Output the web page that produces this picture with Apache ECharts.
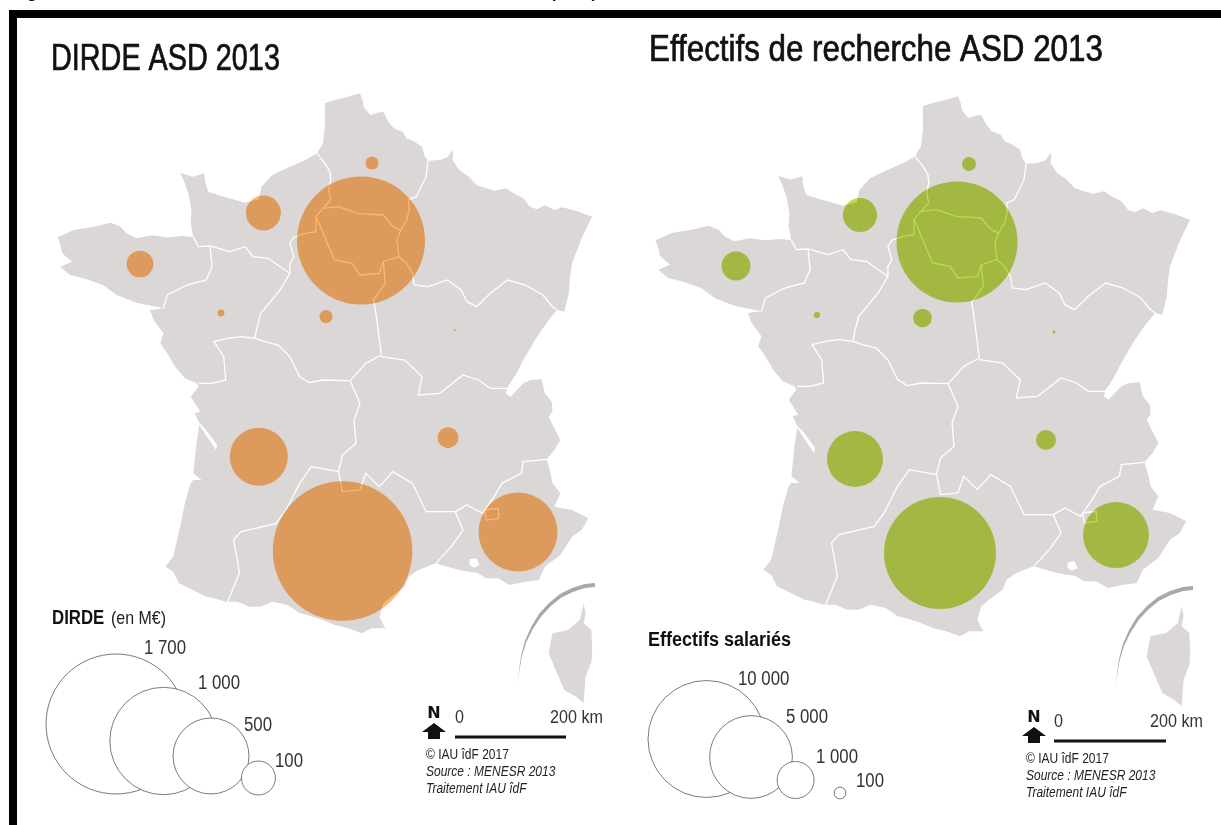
<!DOCTYPE html>
<html><head><meta charset="utf-8">
<style>html,body{margin:0;padding:0;background:#fff}#c{width:1221px;height:825px}</style>
<script src="https://cdn.jsdelivr.net/npm/echarts@6/dist/echarts.min.js"></script></head>
<body><div id="c"></div>
<script>
// Values
const regions = ['Île-de-France','Occitanie','PACA','Nouvelle-Aquitaine','Bretagne','Normandie','Hauts-de-France','Pays de la Loire','Centre-Val de Loire','Auvergne-Rhône-Alpes','Bourgogne-Franche-Comté'];
const dirde = [1421,1690,541,292,62,106,15,4,15,38,0.3];
const effectifs = [10700,9160,3180,2290,610,850,143,28,255,292,7];
const dirdeX = [361,342.6,518,258.8,140,263.4,372,221,326,448,455];
const dirdeY = [240.5,551,532,456.7,264,213,163,313,316.7,437.7,330];
const effX = [359,342,518,257,138,262,371,219,324.5,448,456];
const effY = [239,550,532,456,263,212,161,312,315,437,329];
const legendDirde = [1700,1000,500,100];
const legendDirdeLabels = ['1 700','1 000','500','100'];
const legendDirdeX = [116,163.5,211,258.4];
const legendDirdeY = [724,741,756,778];
const legendEff = [10000,5000,1000,100];
const legendEffLabels = ['10 000','5 000','1 000','100'];
const legendEffX = [108.5,153,197.6,242];
const legendEffY = [736,754,777,790];

// Map geometry, traced (x*2.57, y*3 of the reference)
const outline = [[835,310],[860,300],[890,292],[925,280],[932,300],[935,322],[952,345],[970,338],[985,335],[998,365],[1012,385],[1035,395],[1045,415],[1065,425],[1085,440],[1090,465],[1100,482],[1130,480],[1150,472],[1165,448],[1163,480],[1180,510],[1205,530],[1225,555],[1250,565],[1272,572],[1300,565],[1320,580],[1345,595],[1362,620],[1380,628],[1400,616],[1425,630],[1445,622],[1480,632],[1522,650],[1505,690],[1495,715],[1480,760],[1470,790],[1465,830],[1462,880],[1450,935],[1432,930],[1410,960],[1395,985],[1375,1020],[1345,1080],[1325,1125],[1305,1160],[1300,1180],[1312,1190],[1345,1150],[1365,1140],[1392,1138],[1400,1180],[1418,1205],[1420,1235],[1410,1250],[1440,1320],[1425,1350],[1405,1378],[1415,1420],[1420,1450],[1440,1480],[1425,1520],[1470,1530],[1512,1555],[1495,1590],[1470,1610],[1440,1665],[1400,1700],[1385,1740],[1350,1745],[1310,1755],[1280,1735],[1250,1735],[1225,1718],[1205,1715],[1180,1710],[1150,1700],[1120,1690],[1075,1710],[1050,1730],[1040,1760],[1005,1790],[985,1810],[975,1850],[990,1885],[955,1885],[930,1900],[895,1885],[860,1875],[830,1860],[790,1845],[770,1840],[740,1815],[700,1805],[670,1820],[640,1820],[610,1805],[580,1805],[550,1795],[530,1790],[495,1770],[460,1750],[445,1715],[425,1700],[445,1670],[455,1620],[465,1570],[475,1510],[490,1450],[497,1440],[518,1440],[497,1420],[505,1330],[512,1275],[555,1350],[558,1335],[530,1290],[512,1268],[500,1240],[515,1235],[490,1190],[510,1160],[505,1150],[475,1135],[450,1100],[430,1060],[412,1030],[420,1000],[395,960],[385,930],[420,925],[350,908],[300,885],[265,855],[215,835],[180,825],[155,800],[185,785],[160,760],[155,735],[148,712],[190,690],[240,680],[285,668],[310,680],[325,700],[350,715],[390,706],[430,712],[470,708],[497,712],[490,670],[492,630],[485,585],[475,550],[463,518],[495,530],[525,520],[528,550],[535,575],[575,590],[630,608],[665,598],[672,560],[700,525],[745,500],[785,480],[815,460],[830,430],[835,380]];
const corsica = [[1500,1810],[1505,1840],[1500,1870],[1520,1890],[1522,1950],[1520,1985],[1505,2030],[1500,2110],[1480,2090],[1450,2070],[1430,2015],[1410,1960],[1420,1900],[1460,1890],[1490,1860]];
const arc = [[1529,1749],[1503,1752],[1470,1764],[1439,1782],[1411,1809],[1385,1842],[1365,1881],[1349,1923],[1339,1968],[1334,2010],[1331,2046],[1335,2010],[1341,1970],[1352,1928],[1369,1888],[1390,1850],[1415,1819],[1442,1793],[1472,1776],[1503,1764],[1529,1761]];
const berre = [[1207,1678],[1225,1675],[1232,1695],[1218,1703],[1207,1695]];
const borders = [
 [[815,460],[835,490],[848,515],[850,540],[845,570],[850,600],[830,625],[812,650],[812,695],[785,700],[755,712],[745,730],[755,770],[745,790],[745,820]],
 [[497,712],[510,740],[540,738],[590,755],[630,740],[650,770],[690,775],[720,800],[745,820],[720,870],[695,905],[670,940],[660,985],[655,1015]],
 [[655,1015],[680,1025],[715,1035],[745,1070],[770,1130],[795,1148],[830,1140],[900,1142]],
 [[655,1015],[620,1010],[585,1015],[550,1025],[575,1070],[580,1140],[545,1150],[512,1150]],
 [[540,738],[545,800],[530,840],[480,855],[430,885],[420,925]],
 [[830,625],[870,620],[920,640],[985,645],[1010,680],[1030,690],[1020,720],[1025,770],[985,785],[975,820],[925,825],[905,790],[860,780],[845,740],[820,670],[812,650]],
 [[1100,482],[1095,530],[1070,590],[1050,600],[1052,630],[1045,660],[1030,690]],
 [[1025,770],[1045,790],[1060,820],[1065,855],[1100,860],[1150,840],[1185,870],[1200,905],[1225,920],[1260,880],[1305,840],[1350,855],[1395,885],[1420,920],[1432,930]],
 [[985,785],[990,850],[960,900],[965,930],[975,1020],[980,1065],[940,1090],[900,1142]],
 [[980,1070],[1040,1080],[1085,1130],[1075,1185],[1130,1180],[1190,1125],[1230,1140],[1260,1165],[1305,1165]],
 [[900,1142],[925,1210],[910,1260],[915,1330],[880,1365],[870,1415]],
 [[870,1415],[800,1400],[770,1450],[735,1530],[710,1570],[620,1595],[600,1620],[610,1680],[615,1720],[585,1805]],
 [[870,1415],[880,1475],[925,1470],[940,1420],[975,1460],[1010,1415],[1060,1450],[1095,1535],[1170,1535],[1190,1590],[1160,1640],[1120,1690]],
 [[1170,1535],[1200,1515],[1240,1540],[1270,1490],[1290,1450],[1340,1420],[1345,1385],[1405,1378]],
 [[1245,1530],[1280,1525],[1282,1555],[1250,1560],[1245,1530]]
];
const toMap = p => [p[0]/2.57, 825 - p[1]/3];
const ring = a => { const r = a.map(toMap); r.push(r[0]); return [r]; };
const feature = (name, rings) => ({type:'Feature', properties:{name}, geometry:{type:'Polygon', coordinates:rings}});
echarts.registerMap('france', {type:'FeatureCollection', features:[
  feature('France', ring(outline)), feature('Corse', ring(corsica)), feature('arc', ring(arc)), feature('berre', ring(berre))
]});

const chart = echarts.init(document.getElementById('c'), null, {renderer:'canvas'});
const sans = "'Liberation Sans',Arial,sans-serif";
const t = (x,y,text,size,sx,opt={}) => ({type:'text', silent:true, x, y, scaleX:sx, style:Object.assign({text, fill:'#222', fontFamily:sans, fontSize:size, verticalAlign:'middle', align:'left'}, opt)});
const geoBase = (bx, by) => ({
  map:'france', silent:true, roam:false, aspectScale:1, left:0, top:0, width:1221, height:825,
  boundingCoords:[[0-bx, 825+by],[1221-bx, 0+by]],
  itemStyle:{areaColor:'#DCD7D7', borderWidth:0, borderColor:'transparent'},
  label:{show:false}, emphasis:{disabled:true}, select:{disabled:true},
  regions:[{name:'arc', itemStyle:{areaColor:'#A8A8A8'}},{name:'berre', itemStyle:{areaColor:'#fff'}}]
});
const borderSeries = g => ({type:'lines', coordinateSystem:'geo', geoIndex:g, polyline:true, silent:true, z:2,
  lineStyle:{color:'#fff', width:1.3, opacity:1}, data:borders.map(b=>({coords:b.map(toMap)}))});
const bubbles = (g, name, xs, ys, vs, k, ref, color) => ({type:'scatter', name, coordinateSystem:'geo', geoIndex:g, silent:true, z:3, blendMode:'multiply',
  symbol:'circle', symbolSize:d=>k*Math.sqrt(d[2]/ref), itemStyle:{color, opacity:1},
  data:vs.map((v,i)=>[xs[i],825-ys[i],v])});
const legend = (g, xs, ys, vs, k, ref) => ({type:'scatter', coordinateSystem:'geo', geoIndex:g, silent:true, z:4,
  symbol:'circle', symbolSize:d=>k*Math.sqrt(d[2]/ref), itemStyle:{color:'#fff', borderColor:'#444', borderWidth:0.7, opacity:1},
  data:vs.map((v,i)=>[xs[i],825-ys[i],v])});

const footer = (ox, barL, barR, barY, nY) => [
  t(ox+8,nY,'N',16,1,{fontWeight:'bold',fontFamily:"'DejaVu Sans',sans-serif",fill:'#111',align:'center'}),
  {type:'polygon',silent:true,shape:{points:[[ox+8,nY+9],[ox+20,nY+18],[ox+14,nY+18],[ox+14,nY+25],[ox+2,nY+25],[ox+2,nY+18],[ox-4,nY+18]]},style:{fill:'#111'}},
  t(barL,barY-19,'0',19,0.85,{fill:'#333'}),
  t(barR+37,barY-19,'200 km',19,0.85,{fill:'#333',align:'right'}),
  {type:'line',silent:true,shape:{x1:barL,y1:barY,x2:barR,y2:barY},style:{stroke:'#111',lineWidth:3}},
  t(ox,barY+18,'© IAU îdF 2017',15,0.8),
  t(ox,barY+35,'Source : MENESR 2013',15,0.8,{fontStyle:'italic'}),
  t(ox,barY+52,'Traitement IAU îdF',15,0.8,{fontStyle:'italic'})
];
const labelPos = (labels, xs, ys) => labels.map((s,i)=>t(xs[i],ys[i],s,20,0.84,{fill:'#333'}));
const heavy = {fill:'#111', stroke:'#111', lineWidth:0.7};

chart.setOption({
  backgroundColor:'#fff', animation:false,
  geo:[geoBase(0,0), geoBase(598,3)],
  series:[
    borderSeries(0), borderSeries(1),
    bubbles(0,'DIRDE',dirdeX,dirdeY,dirde,140,1700,'#FFB76D'),
    bubbles(1,'Effectifs',effX,effY,effectifs,117,10000,'#BDDA4E'),
    legend(0,legendDirdeX,legendDirdeY,legendDirde,140,1700),
    legend(1,legendEffX,legendEffY,legendEff,117,10000)
  ],
  graphic:{elements:[
    {type:'polyline',silent:true,shape:{points:[[13,825],[13,14],[1221,14]]},style:{stroke:'#000',lineWidth:8,fill:null}},
    t(12,-7,'Figure',17,1,{fontWeight:'bold',fill:'#111'}),
    t(550,-7,'(ASD)',17,1,{fontWeight:'bold',fill:'#111'}),
    t(51,60,'DIRDE ASD 2013',36,0.8,heavy),
    t(649,51,'Effectifs de recherche ASD 2013',36,0.87,heavy),
    t(52,618,'DIRDE',20,0.84,{fontWeight:'bold',fill:'#111'}),
    t(111,619,'(en M€)',19,0.84,{fill:'#222'}),
    t(648,640,'Effectifs salariés',20,0.9,{fontWeight:'bold',fill:'#111'}),
    ...labelPos(legendDirdeLabels,[144,198,244,275],[648,683,725,761]),
    ...labelPos(legendEffLabels,[738,786,816,856],[679,717,757,781]),
    ...footer(426,455,566,737,714),
    ...footer(1026,1054,1166,741,718)
  ]}
});
</script></body></html>
